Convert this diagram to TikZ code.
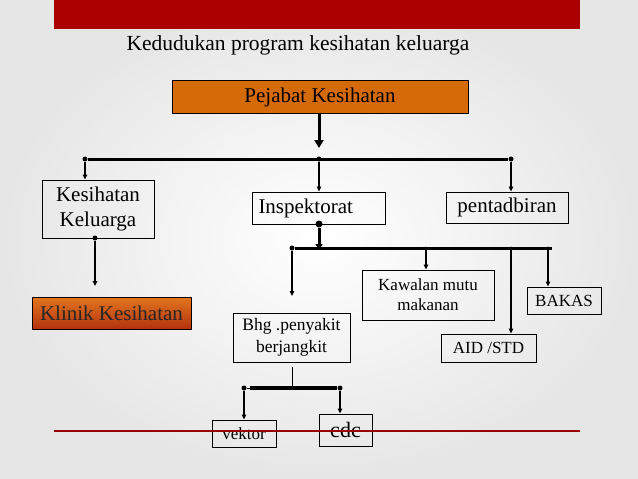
\documentclass[tikz,border=0pt]{standalone}
\usepackage{fontspec}
\setmainfont{Liberation Serif}
\usetikzlibrary{arrows.meta}
\definecolor{barred}{HTML}{AA0000}
\definecolor{boxorange}{HTML}{D46A08}
\definecolor{bggray}{HTML}{E6E6E6}
\definecolor{kltop}{HTML}{E2761E}
\definecolor{klbot}{HTML}{B4320E}
\begin{document}
\begin{tikzpicture}[x=1pt,y=-1pt,
  box/.style={draw=black,line width=0.9pt,inner sep=0pt,align=center,font=\fontsize{21}{25}\selectfont},
  smallbox/.style={box,font=\fontsize{17}{20}\selectfont},
  link/.style={line width=1.5pt,-{Triangle[length=5pt,width=4.5pt]}},
  thicklink/.style={line width=3pt,-{Triangle[length=8pt,width=9pt]}},
  bus/.style={line width=3pt},
  dot/.style={circle,fill=black,inner sep=0pt,minimum size=5pt}]
\useasboundingbox (0,0) rectangle (638,479);
\shade[inner color=white,outer color=bggray] (0,0) rectangle (638,479);
\fill[barred] (54,0) rectangle (580,29);
\node[font=\fontsize{21.5}{24}\selectfont] (title) at (298,45) {Kedudukan program kesihatan keluarga};
% top box
\node[box,fill=boxorange,minimum width=296pt,minimum height=33pt] (pejabat) at (320,97) {Pejabat Kesihatan};
\coordinate (b1m) at (319,148);
\draw[thicklink] (pejabat.south -| b1m) -- (b1m);
% bus 1
\node[dot] (d1l) at (85,159) {};
\node[dot] (d1m) at (319,159) {};
\node[dot] (d1r) at (511,159) {};
\draw[bus] (d1l) -- (d1r);
% second row
\node[box,minimum width=112pt,minimum height=58pt] (kk) at (98,209) {Kesihatan\\Keluarga};
\node[box,minimum width=133pt,minimum height=32pt,text width=120pt,align=left] (insp) at (318.5,208) {Inspektorat};
\node[box,minimum width=122pt,minimum height=31pt] (pent) at (507,207.5) {pentadbiran};
\draw[link] (d1l) -- (d1l |- kk.north);
\draw[link] (d1m) -- (d1m |- insp.north);
\draw[link] (d1r) -- (d1r |- pent.north);
% Kesihatan keluarga -> klinik
\node[dot] (dkk) at (95,238) {};
\node[box,minimum width=159pt,minimum height=32pt,shading=axis,top color=kltop,bottom color=klbot,text=black!85] (klinik) at (111.5,313) {Klinik Kesihatan};
\coordinate (kkend) at (95,286);
\draw[link] (dkk) -- (kkend);
% Inspektorat bus
\node[dot,minimum size=7pt] (dins) at (319,224) {};
\node[dot] (d2a) at (292,248) {};
\node[dot,minimum size=3pt] (d2b) at (426,248) {};
\node[dot,minimum size=3pt] (d2c) at (511,248) {};
\node[dot,minimum size=3pt] (d2d) at (548,248) {};
\coordinate (d2end) at (552,248);
\draw[bus] (d2a) -- (d2end);
\draw[line width=3pt,-{Triangle[length=6pt,width=7pt]}] (dins) -- (319,250);
% children of Inspektorat
\node[smallbox,minimum width=132pt,minimum height=50pt] (kaw) at (428,295) {Kawalan mutu\\makanan};
\node[smallbox,minimum width=74pt,minimum height=27pt] (bakas) at (564,300.5) {BAKAS};
\node[smallbox,minimum width=95pt,minimum height=28pt] (aid) at (488.5,348) {AID /STD};
\node[box,font=\fontsize{17.5}{22}\selectfont,minimum width=117pt,minimum height=49pt] (bhg) at (291.5,337.5) {Bhg .penyakit\\berjangkit};
\coordinate (d2aend) at (292,296);
\draw[link] (d2a) -- (d2aend);
\draw[link] (d2b) -- (d2b |- kaw.north);
\draw[link] (d2c) -- (d2c |- aid.north);
\draw[link] (d2d) -- (d2d |- bakas.north);
% bhg bus
\coordinate (bhgtop) at (292,367);
\coordinate (bhgbus) at (292,388);
\draw[line width=1pt] (bhgtop) -- (bhgbus);
\node[dot] (d3l) at (244,388) {};
\node[dot] (d3r) at (340,388) {};
\coordinate (d3s) at (250,388);
\draw[line width=1pt] (d3l) -- (d3s);
\draw[line width=4pt] (d3s) -- (d3r);
\node[box,font=\fontsize{17}{20}\selectfont,minimum width=64pt,minimum height=27pt] (vek) at (244,433.5) {vektor};
\node[box,font=\fontsize{22}{24}\selectfont,minimum width=53pt,minimum height=32pt] (cdc) at (345.5,430) {cdc};
\draw[link,line width=1.2pt] (d3l) -- (d3l |- vek.north);
\draw[link,line width=1.2pt] (d3r) -- (d3r |- cdc.north);
% red line
\draw[barred!90!black,line width=1.6pt] (54,431) -- (580,431);
\end{tikzpicture}
\end{document}
